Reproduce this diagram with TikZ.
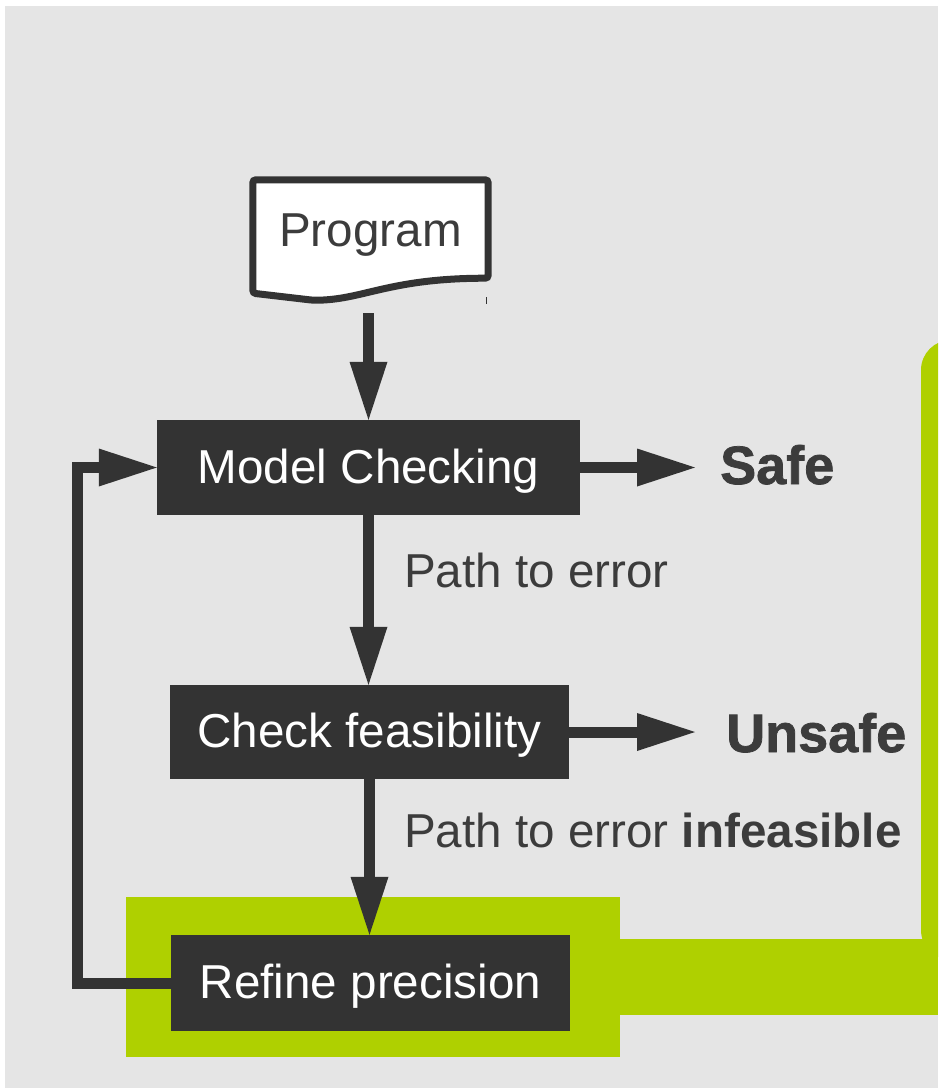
\documentclass[tikz,border=0pt]{standalone}
\usepackage{fontspec}
\setmainfont{Liberation Sans}
\newfontfamily\heavyfont{Liberation Sans}[BoldFeatures={FakeBold=1.4}]
\usetikzlibrary{arrows.meta}
\definecolor{dk}{HTML}{333333}
\definecolor{tx}{HTML}{3C3C3C}
\definecolor{bgc}{HTML}{E5E5E5}
\definecolor{grn}{HTML}{AFD000}
\pgfdeclarelayer{back}
\pgfdeclarelayer{shape}
\pgfsetlayers{back,shape,main}
\begin{document}
\begin{tikzpicture}[x=1pt,y=-1pt,
  box/.style={fill=dk, text=white, inner sep=0pt, font=\fontsize{47.6}{56}\selectfont, text height=34pt, text depth=3pt},
  conn/.style={draw=dk, line width=11pt, -{Triangle[length=58pt,width=38pt,line width=0pt]}},
  lbl/.style={text=tx, inner sep=0pt, font=\fontsize{47.6}{56}\selectfont, anchor=base west},
  res/.style={text=tx, inner sep=0pt, font=\heavyfont\bfseries\fontsize{54}{60}\selectfont, anchor=base west}]
\useasboundingbox (0,0) rectangle (938,1088);
\begin{pgfonlayer}{back}
\fill[bgc] (5,6) rectangle (938,1088);
\begin{scope}
\clip (0,0) rectangle (938,1088);
\fill[grn, rounded corners=30pt] (921,340) rectangle (1000,960);
\end{scope}
\fill[grn] (126,897) rectangle (620,1057);
\fill[grn] (619,939) rectangle (938,1015);
\end{pgfonlayer}

\node[inner sep=0pt, minimum width=235pt, minimum height=113pt, text=tx,
  font=\fontsize{47.6}{56}\selectfont, text height=34pt, text depth=15pt] (prog) at (370.5,236.5) {Program};
\begin{pgfonlayer}{shape}
\filldraw[fill=white, draw=dk, line width=7pt, rounded corners=3pt]
  (prog.south west) -- (prog.north west) -- (prog.north east) -- ([yshift=15pt]prog.south east)
  .. controls +(-100,0) and +(50,0) .. ([xshift=60pt,yshift=-7pt]prog.south west) -- cycle;
\end{pgfonlayer}
\draw[dk, line width=1pt] (486,297) -- (486,304);

\node[box, minimum width=423pt, minimum height=95pt] (mc) at (368.5,467.5) {Model Checking};
\node[box, minimum width=399pt, minimum height=94pt] (cf) at (369.5,732) {Check feasibility};
\node[box, minimum width=399pt, minimum height=96pt] (rp) at (370.5,983) {Refine precision};

\node[res] (safe) at (720,484) {Safe};
\node[res] (unsafe) at (726,752) {Unsafe};
\node[lbl] (p1) at (404,587) {Path to error};
\node[lbl] (p2) at (404,847) {Path to error \textbf{infeasible}};

\coordinate (safetip) at (695,467.5);
\coordinate (unsafetip) at (695,733);
\coordinate (lp) at (77,983);

\draw[conn] ([yshift=-20pt]mc.north |- prog.south) -- (mc.north);
\draw[conn] (mc.south) -- (mc.south |- cf.north);
\draw[conn] (cf.south) -- (cf.south |- rp.north);
\draw[conn] (mc.east) -- (mc.east -| safetip);
\draw[conn] (cf.east) -- (cf.east -| unsafetip);
\draw[conn, line join=miter] (rp.west) -- (rp.west -| lp) |- (mc.west);
\end{tikzpicture}
\end{document}
